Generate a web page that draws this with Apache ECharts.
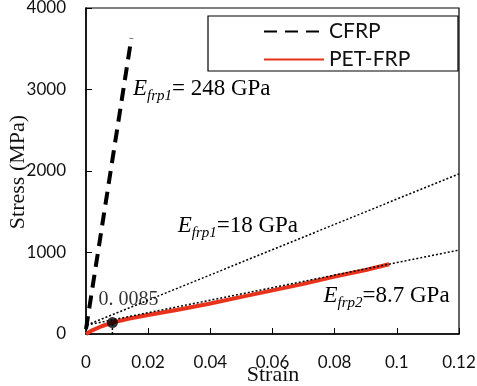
<!DOCTYPE html>
<html>
<head>
<meta charset="utf-8">
<script src="https://cdn.jsdelivr.net/npm/echarts@6/dist/echarts.min.js"></script>
<style>
html,body{margin:0;padding:0;background:#fff;}
#demo{width:477px;height:386px;}
</style>
</head>
<body>
<div id="demo"></div>
<script>
/*------ data ------*/
var xTicks = [0, 0.02, 0.04, 0.06, 0.08, 0.1, 0.12];
var yTicks = [0, 1000, 2000, 3000, 4000];
var cfrpLine = [[0, 60], [0.0146, 3630]];
var petStrain = [0, 0.002, 0.005, 0.0085, 0.014, 0.02, 0.03, 0.04, 0.05, 0.06, 0.07, 0.08, 0.09, 0.0975];
var petStress = [0, 45, 95, 140, 190, 232, 300, 375, 455, 535, 615, 705, 785, 855];
var fit18 = [[0.0003, 110], [0.12, 1965]];
var fit87 = [[0.0003, 110], [0.12, 1030]];
var yieldPt = [0.0085, 140];
var notes = [
	{pos: [0.0151, 3010], sub: 'frp1', txt: '= 248 GPa'},
	{pos: [0.0295, 1325], sub: 'frp1', txt: '=18 GPa'},
	{pos: [0.0764, 466], sub: 'frp2', txt: '=8.7 GPa'}
];

var serif = 'Liberation Serif';
var sans = 'Lato';

var petData = petStrain.map(function (s, i) { return [s, petStress[i]]; });

var chart = echarts.init(document.getElementById('demo'));
chart.setOption({
	animation: false,
	grid: {
		left: 86, top: 8, right: 18, bottom: 52,
		outerBoundsMode: 'none', containLabel: false,
		show: true, borderColor: '#000', borderWidth: 1.2
	},
	legend: {
		left: 258, top: 16,
		orient: 'vertical',
		itemWidth: 60, itemHeight: 14, itemGap: 7,
		itemStyle: {opacity: 0},
		textStyle: {fontFamily: sans, fontSize: 21, color: '#111'},
		data: ['CFRP', 'PET-FRP']
	},
	graphic: [{
		type: 'rect',
		shape: {x: 208, y: 16, width: 250, height: 55},
		style: {fill: 'none', stroke: '#000', lineWidth: 1.2}
	}, {
		// axis titles
		type: 'text', x: 273, y: 375,
		style: {text: 'Strain', fontFamily: serif, fontSize: 22, fill: '#111', align: 'center', verticalAlign: 'middle'}
	}, {
		type: 'text', x: 18, y: 172, rotation: Math.PI / 2,
		style: {text: 'Stress (MPa)', fontFamily: serif, fontSize: 22, fill: '#111', align: 'center', verticalAlign: 'middle'}
	}],
	xAxis: {
		type: 'value', min: 0, max: 0.12, interval: 0.02,
		axisLine: {lineStyle: {color: '#000', width: 1.5}},
		axisTick: {inside: true, length: 6, lineStyle: {color: '#000'}},
		axisLabel: {fontFamily: sans, fontSize: 17, color: '#111', margin: 20},
		splitLine: {show: false}
	},
	yAxis: {
		type: 'value', min: 0, max: 4000, interval: 1000,
		axisLine: {show: true, lineStyle: {color: '#000', width: 1.5}},
		axisTick: {show: true, inside: true, length: 6, lineStyle: {color: '#000'}},
		axisLabel: {
			fontFamily: sans, fontSize: 17, color: '#111', margin: 20,
			formatter: function (v) { return String(v); }
		},
		splitLine: {show: false}
	},
	series: [
		{
			name: 'PET-FRP', type: 'line', symbol: 'none', z: 2,
			lineStyle: {color: '#e8321c', width: 4},
			itemStyle: {color: '#e8321c'},
			data: petData
		}, {
			name: 'fit18', type: 'line', symbol: 'none', z: 3, silent: true,
			lineStyle: {color: '#000', width: 1.5, type: [2, 2]},
			data: fit18
		}, {
			name: 'fit87', type: 'line', symbol: 'none', z: 3, silent: true,
			lineStyle: {color: '#000', width: 1.5, type: [2, 2]},
			data: fit87
		}, {
			name: 'drop', type: 'line', symbol: 'none', z: 3, silent: true,
			lineStyle: {color: '#000', width: 1.5, type: [2, 2]},
			data: [[yieldPt[0], 0], yieldPt]
		}, {
			name: 'CFRP', type: 'line', symbol: 'none', z: 4,
			lineStyle: {color: '#000', width: 4, type: [13, 8]},
			itemStyle: {color: '#000'},
			data: cfrpLine
		}, {
			name: 'yield', type: 'scatter', z: 5, symbolSize: 11,
			itemStyle: {color: '#000'},
			label: {
				show: true, position: 'top', offset: [16, -2],
				formatter: '0. 0085',
				fontFamily: serif, fontSize: 20, color: '#000'
			},
			data: [yieldPt]
		}
	]
});

// E_frp annotations placed in data coordinates
var g = chart.getOption().graphic[0].elements.slice(0, 3);
notes.forEach(function (n) {
	var p = chart.convertToPixel({gridIndex: 0}, n.pos);
	g.push({
		type: 'text', x: p[0], y: p[1],
		style: {
			text: '{e|E}{s|' + n.sub + '}{t|' + n.txt + '}',
			verticalAlign: 'middle',
			rich: {
				e: {fontFamily: serif, fontSize: 23, fontStyle: 'italic', color: '#111', lineHeight: 30, verticalAlign: 'middle'},
				s: {fontFamily: serif, fontSize: 15, fontStyle: 'italic', color: '#111', lineHeight: 15, verticalAlign: 'bottom'},
				t: {fontFamily: serif, fontSize: 23, color: '#111', lineHeight: 30, verticalAlign: 'middle'}
			}
		}
	});
});
chart.setOption({graphic: g}, {replaceMerge: ['graphic']});
</script>
</body>
</html>
